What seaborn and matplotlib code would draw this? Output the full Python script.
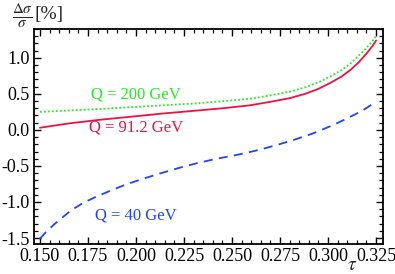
import numpy as np
import pandas as pd
import matplotlib
matplotlib.use("Agg")
import matplotlib.pyplot as plt
from matplotlib.ticker import MultipleLocator, FormatStrFormatter
import seaborn as sns

# values
tau_200 = [0.150, 0.181, 0.2325, 0.259, 0.270, 0.280, 0.288, 0.295, 0.301, 0.307, 0.312, 0.316, 0.320, 0.323, 0.325]
dsig_200 = [0.25, 0.29, 0.37, 0.43, 0.48, 0.53, 0.59, 0.66, 0.74, 0.83, 0.93, 1.03, 1.14, 1.23, 1.30]

tau_912 = [0.150, 0.165, 0.181, 0.200, 0.215, 0.2325, 0.245, 0.259, 0.270, 0.280, 0.288, 0.295, 0.301, 0.307, 0.312, 0.316, 0.320, 0.323, 0.325]
dsig_912 = [0.03, 0.09, 0.14, 0.19, 0.23, 0.27, 0.30, 0.34, 0.39, 0.44, 0.50, 0.57, 0.65, 0.74, 0.84, 0.94, 1.06, 1.16, 1.24]

tau_40 = [0.150, 0.153, 0.157, 0.161, 0.166, 0.172, 0.179, 0.187, 0.195, 0.204, 0.213, 0.222, 0.232, 0.242, 0.252, 0.262, 0.272, 0.282, 0.292, 0.302, 0.310, 0.318, 0.325]
dsig_40 = [-1.51, -1.42, -1.32, -1.23, -1.12, -1.02, -0.93, -0.84, -0.755, -0.675, -0.60, -0.53, -0.46, -0.40, -0.35, -0.29, -0.22, -0.14, -0.05, 0.06, 0.16, 0.27, 0.39]

labels = ["Q = 200 GeV", "Q = 91.2 GeV", "Q = 40 GeV"]
colors = ["#22ee22", "#ee1144", "#2244ff"]

sns.set_style("ticks")
plt.rcParams['font.family'] = ['Liberation Serif', 'DejaVu Serif']
plt.rcParams['mathtext.fontset'] = 'stix'

fig = plt.figure(figsize=(3.95, 2.74), dpi=100)
ax = fig.add_axes([34/395, 30/274, 349/395, 215/274])

df200 = pd.DataFrame({"tau": tau_200, "d": dsig_200})
df912 = pd.DataFrame({"tau": tau_912, "d": dsig_912})
df40 = pd.DataFrame({"tau": tau_40, "d": dsig_40})

sns.lineplot(data=df200, x="tau", y="d", ax=ax, color=colors[0], lw=1.3, linestyle=(0, (1, 1.2)))
sns.lineplot(data=df912, x="tau", y="d", ax=ax, color=colors[1], lw=1.3)
sns.lineplot(data=df40, x="tau", y="d", ax=ax, color=colors[2], lw=1.3, linestyle=(0, (5, 3.5)))

ax.set_xlim(0.1469, 0.3286)
ax.set_ylim(-1.583, 1.40)
ax.set_xlabel("")
ax.set_ylabel("")

ax.xaxis.set_major_locator(MultipleLocator(0.025))
ax.xaxis.set_minor_locator(MultipleLocator(0.005))
ax.yaxis.set_major_locator(MultipleLocator(0.5))
ax.yaxis.set_minor_locator(MultipleLocator(0.1))
ax.xaxis.set_major_formatter(FormatStrFormatter("%.3f"))
ax.yaxis.set_major_formatter(FormatStrFormatter("%.1f"))

ax.tick_params(which="both", direction="in", top=True, right=True, colors="black",
               labelsize=13, pad=3)
ax.tick_params(which="major", length=5, width=1.0)
ax.tick_params(which="minor", length=2.8, width=0.9)
for s in ax.spines.values():
    s.set_linewidth(1.3)
    s.set_color("black")

ax.text(0.200, 0.485, labels[0], color=colors[0], fontsize=12, ha="center", va="center")
ax.text(0.200, 0.03, labels[1], color=colors[1], fontsize=12, ha="center", va="center")
ax.text(0.200, -1.19, labels[2], color=colors[2], fontsize=12, ha="center", va="center")

fig.text(12/395, 1 - 16/274, r"$\frac{\Delta\sigma}{\sigma}$", fontsize=15.5, ha="left", va="center")
fig.text(35/395, 1 - 15/274, "[%]", fontsize=14, ha="left", va="center")
fig.text(352/395, 1 - 266/274, r"$\tau$", fontsize=14, ha="center", va="center")

fig.savefig("out.png", dpi=100)
